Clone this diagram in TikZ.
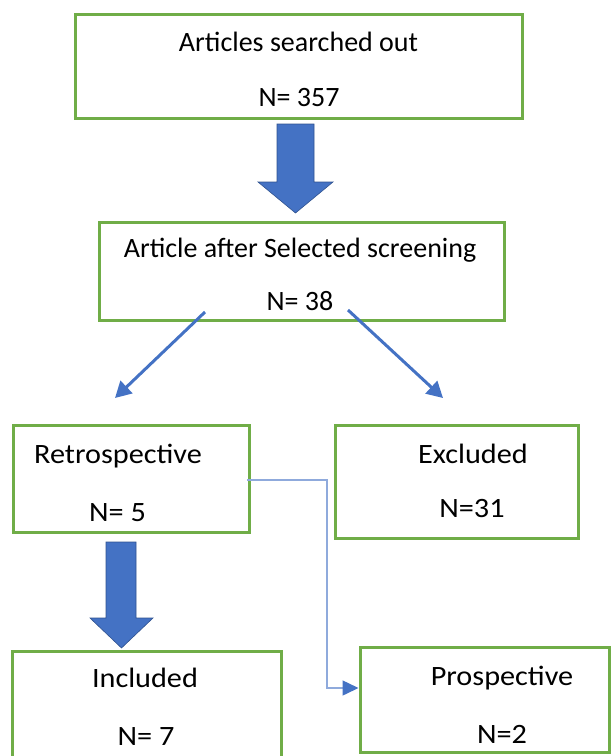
\documentclass[tikz,border=0pt]{standalone}
\usepackage{fontspec}
\setmainfont{Carlito}
\newfontfamily\widefont[FakeStretch=1.08]{Carlito}
\usetikzlibrary{arrows.meta,calc}
\definecolor{boxgreen}{HTML}{70AD47}
\definecolor{arrowblue}{HTML}{4472C4}
\definecolor{lightblue}{HTML}{8FAADC}
\definecolor{edgeblue}{HTML}{2F528F}
\begin{document}
\begin{tikzpicture}[x=1pt,y=-1pt,
  box/.style={draw=boxgreen, line width=3pt, inner sep=0pt, outer sep=0pt},
  lbl/.style={inner sep=0pt, anchor=base, font=\fontsize{28}{34}\selectfont, text=black},
  wlbl/.style={lbl, font=\widefont\fontsize{28}{34}\selectfont},
  diag/.style={draw=arrowblue, line width=3pt, -{Triangle[length=16pt,width=17pt]}},
  elbow/.style={draw=lightblue, line width=1.5pt, -{Triangle[length=16pt,width=15pt,color=arrowblue]}},
  blockarrow/.style={fill=arrowblue, draw=edgeblue, line width=0.6pt, line join=miter}]
\useasboundingbox (0,0) rectangle (611,756);
\clip (0,0) rectangle (611,756);
% boxes
\node[box, minimum width=447pt, minimum height=104pt] (b1) at (298.5,66) {};
\node[box, minimum width=405pt, minimum height=98pt] (b2) at (301.5,271) {};
\node[box, minimum width=236pt, minimum height=107pt] (b3) at (131,478.5) {};
\node[box, minimum width=243pt, minimum height=113pt] (b4) at (456.5,481.5) {};
\node[box, minimum width=269pt, minimum height=119pt] (b5) at (146.5,710.5) {};
\node[box, minimum width=249pt, minimum height=105pt] (b6) at (484.5,699.5) {};
% labels
\node[lbl] (t1a) at (298.5,51) {Articles searched out};
\node[lbl] (t1b) at (299,106) {N= 357};
\node[lbl] (t2a) at (300,257) {Article after Selected screening};
\node[lbl] (t2b) at (300,310) {N= 38};
\node[wlbl] (t3a) at (118,463) {Retrospective};
\node[wlbl] (t3b) at (117.5,521) {N= 5};
\node[wlbl] (t4a) at (473,463) {Excluded};
\node[wlbl] (t4b) at (472,517) {N=31};
\node[wlbl] (t5a) at (145,687) {Included};
\node[wlbl] (t5b) at (146,745) {N= 7};
\node[wlbl] (t6a) at (502,685) {Prospective};
\node[wlbl] (t6b) at (502,743) {N=2};
% block arrows
\draw[blockarrow] (277,124) -- (314,124) -- (314,182) -- (333,182) -- (295.5,213)
  -- (258,182) -- (277,182) -- cycle;
\draw[blockarrow] (106,542) -- (136,542) -- (136,618) -- (153,618) -- (121.5,648)
  -- (90,618) -- (106,618) -- cycle;
% diagonal arrows
\coordinate (dl) at ($(b2.south)+(-96.5,-8)$);
\coordinate (dr) at ($(b2.south)+(46.5,-10)$);
\coordinate (dlend) at ($(b3.north)+(-16,-27)$);
\coordinate (drend) at ($(b4.north)+(-13.5,-27)$);
\draw[diag] (dl) -- (dlend);
\draw[diag] (dr) -- (drend);
% elbow connector
\coordinate (eend) at ($(b6.west)+(-1.5,-11.5)$);
\draw[elbow] ($(b3.east)+(-2,1.5)$) -- ++(80,0) |- (eend);
\end{tikzpicture}
\end{document}
